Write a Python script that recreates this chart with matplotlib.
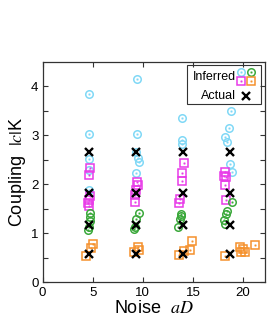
import numpy as np
import matplotlib
matplotlib.use('Agg')
import matplotlib.pyplot as plt
from matplotlib.patches import Rectangle

plt.rcParams['font.family'] = ['Liberation Sans', 'DejaVu Sans']
plt.rcParams['mathtext.fontset'] = 'stix'

# inferred couplings
cyan_x = [4.65, 4.65, 4.65, 4.6, 4.6, 9.4, 9.4, 9.3, 9.5, 9.6, 9.3,
          13.9, 13.9, 13.9, 18.8, 18.6, 18.2, 18.4, 18.7, 18.9]
cyan_y = [3.84, 3.03, 2.51, 2.30, 1.88, 4.15, 3.03, 2.66, 2.53, 2.45, 2.23,
          3.36, 2.91, 2.83, 3.50, 3.15, 2.96, 2.87, 2.41, 2.25]

pink_x = [4.7, 4.65, 4.7, 4.6, 4.55, 4.6, 9.4, 9.5, 9.3, 9.2, 9.2,
          14.1, 13.9, 13.9, 13.7, 13.6, 18.2, 18.1, 18.3, 18.2, 18.3]
pink_y = [2.33, 2.20, 1.76, 1.68, 1.62, 1.55, 2.05, 1.98, 1.88, 1.78, 1.63,
          2.44, 2.23, 2.07, 1.70, 1.62, 2.25, 2.18, 2.15, 1.98, 1.68]

green_x = [4.75, 4.7, 4.7, 4.65, 4.55, 9.6, 9.3, 9.2, 9.1,
           13.8, 13.8, 13.75, 13.55, 18.9, 18.4, 18.3, 18.1, 18.2]
green_y = [1.41, 1.33, 1.25, 1.14, 1.06, 1.42, 1.30, 1.13, 1.09,
           1.40, 1.35, 1.30, 1.13, 1.63, 1.46, 1.39, 1.27, 1.20]

orange_x = [5.05, 4.85, 4.35, 9.5, 9.6, 9.1, 14.9, 14.7, 14.1, 13.6,
            19.7, 20.0, 19.8, 20.2, 21.2, 18.2]
orange_y = [0.78, 0.70, 0.53, 0.73, 0.66, 0.61, 0.85, 0.66, 0.64, 0.56,
            0.73, 0.68, 0.61, 0.63, 0.76, 0.53]

# actual couplings
noise = [4.67, 9.33, 14.0, 18.67]
actual = [2.67, 1.83, 1.17, 0.57]

c_cyan = '#80d8f6'
c_pink = '#e83be8'
c_green = '#3aa83a'
c_orange = '#f5912c'

fig = plt.figure(figsize=(2.73, 3.22), dpi=100)
ax = fig.add_axes([0.156, 0.123, 0.815, 0.685])


def dotted(x, y, marker, color, ms, **kw):
    ax.plot(x, y, ls='none', marker=marker, mfc='none', mec=color, ms=ms, mew=1.1, **kw)
    ax.plot(x, y, ls='none', marker='s', mfc=color, mec=color, ms=1.0, mew=0.3, **kw)


dotted(cyan_x, cyan_y, 'o', c_cyan, 5.4)
dotted(pink_x, pink_y, 's', c_pink, 5.2)
dotted(green_x, green_y, 'o', c_green, 5.4)
dotted(orange_x, orange_y, 's', c_orange, 5.2)
for xv in noise:
    ax.plot([xv] * len(actual), actual, ls='none', marker='x', color='black', ms=6, mew=1.7)

ax.set_xlim(0, 22.2)
ax.set_ylim(0, 4.5)
ax.set_xticks([0, 5, 10, 15, 20])
ax.set_yticks([0, 1, 2, 3, 4])
ax.set_yticks(np.arange(0.5, 4.5, 1.0), minor=True)
ax.tick_params(which='both', direction='in', top=True, right=True, length=3.5,
               width=0.8, labelsize=9.5, pad=3, color='#333333')
for s in ax.spines.values():
    s.set_linewidth(0.9)
    s.set_color('#333333')

ax.set_xlabel(r'Noise  $aD$', fontsize=13, labelpad=1)
ax.set_ylabel(r'Coupling  $|c|$K', fontsize=13, labelpad=2)

# legend drawn by hand, as in the original
ax.add_patch(Rectangle((0.649, 0.808), 0.333, 0.177, transform=ax.transAxes,
                       fill=False, ec='#333333', lw=0.8, zorder=5))
ax.text(0.87, 0.932, 'Inferred', transform=ax.transAxes, ha='right', va='center', fontsize=9)
ax.text(0.87, 0.845, 'Actual', transform=ax.transAxes, ha='right', va='center', fontsize=9)
for (lx, ly, mk, col) in [(0.891, 0.955, 'o', c_cyan), (0.936, 0.955, 'o', c_green),
                          (0.891, 0.913, 's', c_pink), (0.936, 0.913, 's', c_orange)]:
    ax.plot([lx], [ly], transform=ax.transAxes, ls='none', marker=mk, mfc='none',
            mec=col, ms=5.4, mew=1.1, clip_on=False)
    ax.plot([lx], [ly], transform=ax.transAxes, ls='none', marker='s', mfc=col,
            mec=col, ms=1.0, mew=0.3, clip_on=False)
ax.plot([0.913], [0.845], transform=ax.transAxes, ls='none', marker='x', color='black',
        ms=6, mew=1.7)

fig.savefig('out.png', dpi=100)
